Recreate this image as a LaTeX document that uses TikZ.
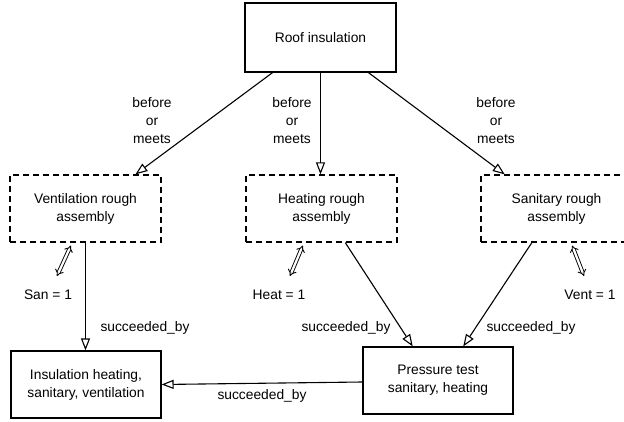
\documentclass[tikz,border=0pt]{standalone}
\usepackage{fontspec}
\setmainfont{Liberation Sans}
\usetikzlibrary{arrows.meta,calc}
\begin{document}
\begin{tikzpicture}[x=1pt,y=-1pt,
  font=\fontsize{13.8}{18}\selectfont,
  task/.style={draw, line width=1.2pt, rectangle, minimum width=151pt, minimum height=67pt, inner sep=0pt, align=center},
  rough/.style={task, dashed, dash pattern=on 6pt off 4pt},
  rel/.style={line width=1.1pt, -{Triangle[open, length=12pt, width=9pt]}},
  link/.style={line width=0.9pt, double, double distance=2.2pt, {Implies}-{Implies}},
  lbl/.style={align=center, inner sep=0pt}]
\useasboundingbox (0,0) rectangle (624,422);
\clip (0,0) rectangle (624,422);

% activities
\node[task, minimum height=69pt] (roof) at (320.5,37.5) {Roof insulation};
\node[rough] (vent) at (85.5,208.5) {Ventilation rough\\assembly};
\node[rough] (heat) at (321.5,208.5) {Heating rough\\assembly};
\node[rough] (san) at (556.5,208.5) {Sanitary rough\\assembly};
\node[task, minimum width=150pt] (ins) at (86,384.5) {Insulation heating,\\sanitary, ventilation};
\node[task, minimum width=150pt] (press) at (438,380.5) {Pressure test\\sanitary, heating};

% precedence relations
\draw[rel] ($(roof.south west)!0.185!(roof.south east)$) -- ($(vent.north west)!0.828!(vent.north east)$);
\draw[rel] (roof.south) -- (roof.south |- heat.north);
\draw[rel] ($(roof.south west)!0.815!(roof.south east)$) -- ($(san.north west)!0.16!(san.north east)$);
\draw[rel] (vent.south) -- (vent.south |- ins.north);
\draw[rel] ($(heat.south west)!0.656!(heat.south east)$) -- ($(press.north west)!0.333!(press.north east)$);
\draw[rel] ($(san.south west)!0.338!(san.south east)$) -- ($(press.north west)!0.667!(press.north east)$);
\draw[rel] ($(press.west)+(0,1.5)$) -- (ins.east);

\node[lbl] (bm1) at (152,121) {before\\or\\meets};
\node[lbl] (bm2) at (292,121) {before\\or\\meets};
\node[lbl] (bm3) at (496,121) {before\\or\\meets};

\node[lbl] (sb1) at (145,328) {succeeded\_by};
\node[lbl] (sb2) at (346,328) {succeeded\_by};
\node[lbl] (sb3) at (531,328) {succeeded\_by};
\node[lbl] (sb4) at (262,396) {succeeded\_by};

% resource links
\coordinate (ve) at (57,276);
\coordinate (he) at (290,276);
\coordinate (se) at (584,276);
\draw[link] ($(vent.south west)!0.404!(vent.south east)+(0,3)$) -- (ve);
\draw[link] ($(heat.south west)!0.377!(heat.south east)+(0,3)$) -- (he);
\draw[link] ($(san.south west)!0.603!(san.south east)+(0,3)$) -- (se);

\node[lbl] (sanv) at (48,295) {San = 1};
\node[lbl] (heatv) at (279,295) {Heat = 1};
\node[lbl] (ventv) at (590,295) {Vent = 1};
\end{tikzpicture}
\end{document}
